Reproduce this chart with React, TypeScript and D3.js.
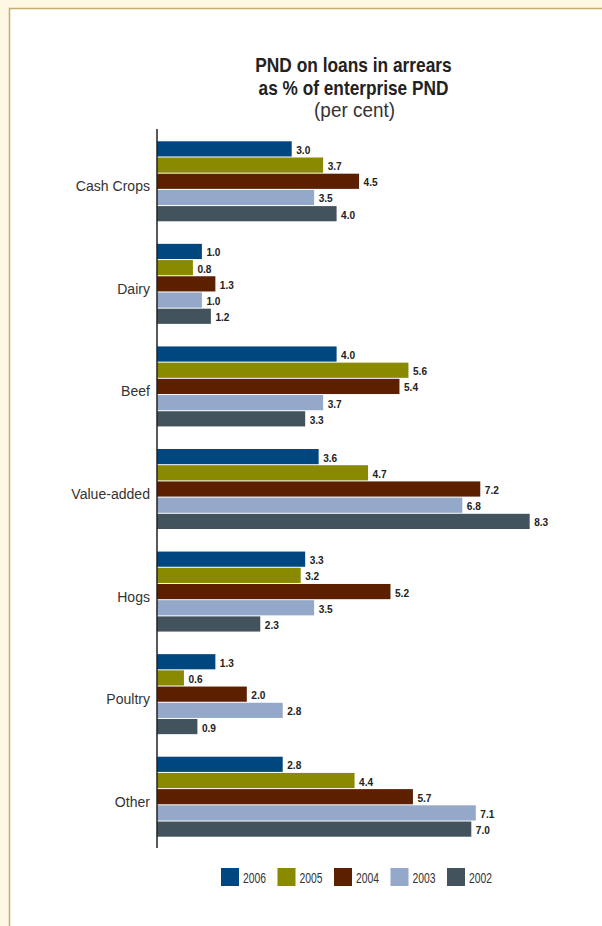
import React from "react";
import * as d3 from "d3";

const categories = ["Cash Crops", "Dairy", "Beef", "Value-added", "Hogs", "Poultry", "Other"];
const years = ["2006", "2005", "2004", "2003", "2002"];
const v2006 = [3.0, 1.0, 4.0, 3.6, 3.3, 1.3, 2.8];
const v2005 = [3.7, 0.8, 5.6, 4.7, 3.2, 0.6, 4.4];
const v2004 = [4.5, 1.3, 5.4, 7.2, 5.2, 2.0, 5.7];
const v2003 = [3.5, 1.0, 3.7, 6.8, 3.5, 2.8, 7.1];
const v2002 = [4.0, 1.2, 3.3, 8.3, 2.3, 0.9, 7.0];
const seriesValues = [v2006, v2005, v2004, v2003, v2002];
const colors = ["#00467f", "#8a8a00", "#5c1f00", "#94a8c9", "#43535d"];

const FONT = "'Liberation Sans', Arial, sans-serif";

type TProps = {
  x: number; y: number; sx: number; size: number; bold?: boolean;
  anchor?: "start" | "middle" | "end"; fill?: string; children: React.ReactNode;
};
function T({ x, y, sx, size, bold, anchor = "start", fill = "#222", children }: TProps) {
  return (
    <text
      transform={`translate(${x},${y}) scale(${sx},1)`}
      fontSize={size}
      fontWeight={bold ? "bold" : "normal"}
      textAnchor={anchor}
      fill={fill}
    >
      {children}
    </text>
  );
}

export default function App() {
  const W = 602, H = 926;
  const axisX = 157;
  const x = d3.scaleLinear().domain([0, 1]).range([axisX, axisX + 44.9]);
  const y = d3.scaleBand<string>().domain(categories).range([130, 848]).paddingInner(0).paddingOuter(0);
  const inner = d3.scaleBand<string>().domain(years).range([0, 80]).paddingInner(1 / 16).paddingOuter(0);
  const groupOffset = (y.bandwidth() - 80) / 2;

  return (
    <svg width={W} height={H} style={{ position: "absolute", left: 0, top: 0, fontFamily: FONT }}>
      <rect x={0} y={0} width={W} height={H} fill="#fef7e4" />
      <rect x={9.5} y={8.5} width={W} height={H} fill="#ffffff" stroke="#c9ad6a" strokeWidth={1.5} />
      <T x={353.5} y={72} sx={0.89} size={19.5} bold anchor="middle">PND on loans in arrears</T>
      <T x={353.5} y={95} sx={0.885} size={19.5} bold anchor="middle">as % of enterprise PND</T>
      <T x={354.5} y={117} sx={0.97} size={19.5} anchor="middle" fill="#333">(per cent)</T>

      {categories.map((c, ci) => {
        const gy = (y(c) as number) + groupOffset;
        return (
          <g key={c}>
            <T x={150} y={gy + 40 + 10} sx={0.97} size={14.5} anchor="end" fill="#333">{c}</T>
            {years.map((yr, si) => {
              const val = seriesValues[si][ci];
              const by = gy + (inner(yr) as number);
              const bh = inner.bandwidth();
              return (
                <g key={yr}>
                  <rect x={x(0)} y={by} width={x(val) - x(0)} height={bh} fill={colors[si]} />
                  <T x={x(val) + 4.5} y={by + bh / 2 + 5} sx={0.88} size={11.5} bold fill="#222">
                    {val.toFixed(1)}
                  </T>
                </g>
              );
            })}
          </g>
        );
      })}
      <line x1={axisX} x2={axisX} y1={129} y2={848} stroke="#222" strokeWidth={1.5} />

      {years.map((yr, i) => (
        <g key={yr}>
          <rect x={221 + i * 56.5} y={868} width={18} height={18} fill={colors[i]} />
          <T x={221 + i * 56.5 + 22} y={882.5} sx={0.74} size={14} fill="#333">{yr}</T>
        </g>
      ))}
    </svg>
  );
}
